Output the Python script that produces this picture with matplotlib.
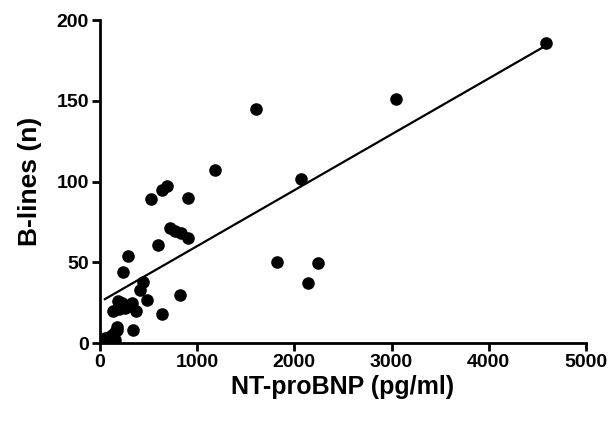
import numpy as np
import matplotlib.pyplot as plt

plt.rcParams['font.family'] = ['Liberation Sans', 'DejaVu Sans']
plt.rcParams['font.weight'] = 'bold'

# NT-proBNP (pg/ml) vs number of B-lines
nt_probnp = [4585, 3044, 1605, 1181, 2069, 1823, 2246, 2145,
             524, 633, 685, 907, 593, 718, 774, 835, 907, 819, 637,
             290, 240, 444, 411, 487, 343, 370, 302, 223, 131, 189,
             171, 120, 50, 154, 60, 95, 180, 260, 330, 150, 200]
b_lines = [186, 151, 145, 107, 101.5, 50, 49.5, 37,
           89, 95, 97.5, 90, 61, 71.5, 69.5, 68, 65, 29.5, 18,
           54, 44, 38, 33, 27, 8, 20, 23, 25, 20, 26,
           8, 5, 3, 2, 2, 4, 10, 22, 25, 7, 21]

# regression line
fit_intercept = 25.5
fit_slope = 0.0346

xticks = [0, 1000, 2000, 3000, 4000, 5000]
yticks = [0, 50, 100, 150, 200]

fig = plt.figure(figsize=(6.15, 4.21), dpi=100)
ax = fig.add_axes([0.1626, 0.185, 0.79, 0.767])

ax.scatter(nt_probnp, b_lines, s=82, color='black', zorder=3, linewidths=0)
xfit = np.array([min(nt_probnp), max(nt_probnp)])
ax.plot(xfit, fit_intercept + fit_slope * xfit, color='black', lw=1.6, zorder=2)

ax.set_xlim(0, 5000)
ax.set_ylim(0, 200)
ax.set_xticks(xticks)
ax.set_yticks(yticks)
ax.tick_params(direction='out', length=6, width=2, labelsize=14, pad=2)
for s in ['top', 'right']:
    ax.spines[s].set_visible(False)
for s in ['left', 'bottom']:
    ax.spines[s].set_linewidth(2)

ax.set_xlabel('NT-proBNP (pg/ml)', fontsize=18, fontweight='bold', labelpad=3)
ax.set_ylabel('B-lines (n)', fontsize=19, fontweight='bold', labelpad=10)

fig.savefig('out.png', dpi=100)
